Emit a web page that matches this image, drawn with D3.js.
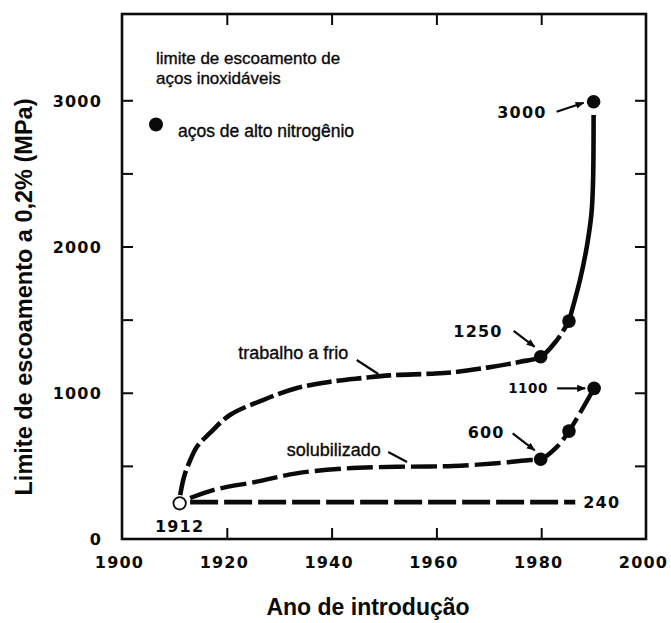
<!DOCTYPE html>
<html><head><meta charset="utf-8">
<script src="https://cdn.jsdelivr.net/npm/d3@7"></script>
<style>
html,body{margin:0;padding:0;background:#fff;}
svg{display:block;}
</style>
</head><body>
<svg id="chart" width="671" height="623"></svg>
<script>
// ---------------- DATA ----------------
const xTickYears = [1900, 1920, 1940, 1960, 1980, 2000];
const yTickValues = [0, 1000, 2000, 3000];
const yMinorTicks = [500, 1000, 1500, 2000, 2500, 3000];
const xInnerTicks = [1920, 1940, 1960, 1980];

// "trabalho a frio" curve (traced), dashed part then solid steep part
const coldWorkLower = [[1911.1,300],[1911.8,420],[1912.8,520],[1914.3,631],[1916.8,725],[1920.6,848],[1926.9,950],[1933.4,1032],[1939.7,1075],[1946.0,1101],[1951.1,1119],[1958.8,1130],[1963.2,1140],[1969.7,1172],[1976.0,1212],[1979.9,1246],[1983.0,1360],[1985.3,1490]];
const coldWorkUpper = [[1985.3,1490],[1987.4,1771],[1988.7,1998],[1989.6,2229],[1989.9,2454],[1990.0,2900]];
// "solubilizado" curve (traced)
const solutionCurve = [[1913.0,280],[1917.4,335],[1925.7,392],[1933.3,449],[1942.9,483],[1952.4,494],[1958.8,496],[1963.2,499],[1971.5,518],[1977.9,540],[1979.9,545],[1983.0,630],[1985.3,738],[1990.1,1030]];
// 1912 baseline (240 MPa)
const baseLine = [[1913.0,252],[1986.5,252]];

// high-nitrogen steel points
const coldWorkPoints = [[1979.9,1246],[1985.3,1490],[1990.0,2990]];
const solutionPoints = [[1979.9,545],[1985.3,738],[1990.1,1030]];
const origin1912 = [1911.0, 244];

// value labels
const valueLabels = ["3000","1250","1100","600","240","1912"];
const curveNames = ["trabalho a frio","solubilizado"];
const legendTitle = ["limite de escoamento de","aços inoxidáveis"];
const legendItem = "aços de alto nitrogênio";
const xTitle = "Ano de introdução";
const yTitle = "Limite de escoamento a 0,2% (MPa)";

// ---------------- LAYOUT ----------------
const svg = d3.select("#chart");
const L = 122, R = 646, T = 14, B = 539;
const x = d3.scaleLinear().domain([1900, 2000]).range([L, R]);
const y = d3.scaleLinear().domain([0, 3590]).range([B, T]);

const NUMFONT = "'DejaVu Sans', sans-serif";
const TXTFONT = "'Liberation Sans', Arial, sans-serif";
const ink = "#0a0a0a";

// frame
svg.append("rect").attr("x", L).attr("y", T).attr("width", R-L).attr("height", B-T)
  .attr("fill","none").attr("stroke", ink).attr("stroke-width", 2.6);

// inner ticks via axes
const tl = 11;
svg.append("g").attr("transform",`translate(${L},0)`)
  .call(d3.axisRight(y).tickValues(yMinorTicks).tickSize(tl).tickFormat(""))
  .call(g=>g.select(".domain").remove())
  .call(g=>g.selectAll("line").attr("stroke",ink).attr("stroke-width",2));
svg.append("g").attr("transform",`translate(${R},0)`)
  .call(d3.axisLeft(y).tickValues(yMinorTicks).tickSize(tl).tickFormat(""))
  .call(g=>g.select(".domain").remove())
  .call(g=>g.selectAll("line").attr("stroke",ink).attr("stroke-width",2));
svg.append("g").attr("transform",`translate(0,${B})`)
  .call(d3.axisTop(x).tickValues(xInnerTicks).tickSize(tl).tickFormat(""))
  .call(g=>g.select(".domain").remove())
  .call(g=>g.selectAll("line").attr("stroke",ink).attr("stroke-width",2));
svg.append("g").attr("transform",`translate(0,${T})`)
  .call(d3.axisBottom(x).tickValues(xInnerTicks).tickSize(tl).tickFormat(""))
  .call(g=>g.select(".domain").remove())
  .call(g=>g.selectAll("line").attr("stroke",ink).attr("stroke-width",2));

// tick labels
const xLab = svg.append("g").attr("transform",`translate(0,${B})`)
  .call(d3.axisBottom(x).tickValues(xTickYears).tickSize(0).tickPadding(0).tickFormat(d3.format("d")));
xLab.select(".domain").remove();
xLab.selectAll("text").attr("dy",null).attr("y",29).attr("dx",-3)
  .attr("font-family",NUMFONT).attr("font-weight","bold").attr("font-size",16)
  .attr("letter-spacing",1.2).attr("fill",ink);

const yLab = svg.append("g").attr("transform",`translate(${L},0)`)
  .call(d3.axisLeft(y).tickValues(yTickValues).tickSize(0).tickPadding(0).tickFormat(d3.format("d")));
yLab.select(".domain").remove();
yLab.selectAll("text").attr("x",-20).attr("dy","0.36em")
  .attr("font-family",NUMFONT).attr("font-weight","bold").attr("font-size",16)
  .attr("letter-spacing",1.2).attr("fill",ink);

// axis titles
svg.append("text").attr("x",368).attr("y",615).attr("text-anchor","middle")
  .attr("font-family",TXTFONT).attr("font-weight","bold").attr("font-size",23)
  .attr("fill",ink).text(xTitle);
svg.append("text").attr("transform","translate(32,297) rotate(-90)").attr("text-anchor","middle")
  .attr("font-family",TXTFONT).attr("font-weight","bold").attr("font-size",23.5)
  .attr("fill",ink).text(yTitle);

// curves
const line = d3.line().x(d=>x(d[0])).y(d=>y(d[1])).curve(d3.curveCatmullRom.alpha(0.5));
const lineLin = d3.line().x(d=>x(d[0])).y(d=>y(d[1]));

svg.append("path").attr("d", line(coldWorkLower)).attr("fill","none")
  .attr("stroke",ink).attr("stroke-width",4.6).attr("stroke-dasharray","25,5");
svg.append("path").attr("d", line(coldWorkUpper)).attr("fill","none")
  .attr("stroke",ink).attr("stroke-width",4.6);
svg.append("path").attr("d", line(solutionCurve)).attr("fill","none")
  .attr("stroke",ink).attr("stroke-width",4.4).attr("stroke-dasharray","26,6");
svg.append("path").attr("d", lineLin(baseLine)).attr("fill","none")
  .attr("stroke",ink).attr("stroke-width",4.6).attr("stroke-dasharray","28,6");

// points
svg.append("g").selectAll("circle").data(coldWorkPoints.concat(solutionPoints)).join("circle")
  .attr("cx",d=>x(d[0])).attr("cy",d=>y(d[1])).attr("r",6.8).attr("fill",ink);
svg.append("circle").attr("cx",x(origin1912[0])).attr("cy",y(origin1912[1])).attr("r",6.2)
  .attr("fill","#fff").attr("stroke",ink).attr("stroke-width",1.8);

// arrow marker
svg.append("defs").append("marker").attr("id","ah").attr("viewBox","0 0 10 10")
  .attr("refX",9).attr("refY",5).attr("markerWidth",4).attr("markerHeight",4)
  .attr("orient","auto").attr("markerUnits","strokeWidth")
  .append("path").attr("d","M0,1 L10,5 L0,9 Z").attr("fill",ink);

// value labels with arrows (offsets from target point)
const ann = [
  {p: coldWorkPoints[2], t: valueLabels[0], tail:[-37,10], tip:[-10,1], tx:[-47,10], fs:16, ls:1.2},
  {p: coldWorkPoints[0], t: valueLabels[1], tail:[-27,-26], tip:[-6,-10], tx:[-38,-26], fs:16, ls:1.2},
  {p: solutionPoints[2], t: valueLabels[2], tail:[-37,0], tip:[-9,0], tx:[-46,0], fs:13.5, ls:0.6},
  {p: solutionPoints[0], t: valueLabels[3], tail:[-28,-26], tip:[-6,-9], tx:[-36,-27], fs:16, ls:1.2}
];
ann.forEach(a=>{
  const px = x(a.p[0]), py = y(a.p[1]);
  svg.append("line").attr("x1",px+a.tail[0]).attr("y1",py+a.tail[1])
    .attr("x2",px+a.tip[0]).attr("y2",py+a.tip[1])
    .attr("stroke",ink).attr("stroke-width",2.2).attr("marker-end","url(#ah)");
  svg.append("text").attr("x",px+a.tx[0]).attr("y",py+a.tx[1]).attr("dy","0.36em")
    .attr("text-anchor","end").attr("font-family",NUMFONT).attr("font-weight","bold")
    .attr("font-size",a.fs).attr("letter-spacing",a.ls).attr("fill",ink).text(a.t);
});
// 240 label at end of baseline
svg.append("text").attr("x",x(baseLine[1][0])+8).attr("y",y(baseLine[1][1])).attr("dy","0.36em")
  .attr("font-family",NUMFONT).attr("font-weight","bold").attr("font-size",16)
  .attr("letter-spacing",1.2).attr("fill",ink).text(valueLabels[4]);
// 1912 label
svg.append("text").attr("x",x(origin1912[0])).attr("y",y(origin1912[1])+23).attr("dy","0.36em")
  .attr("text-anchor","middle").attr("font-family",NUMFONT).attr("font-weight","bold")
  .attr("font-size",16).attr("letter-spacing",1.2).attr("fill",ink).text(valueLabels[5]);

// curve names with leader lines
const names = [
  {t: curveNames[0], at:[1932.7,1274], l1:[1944.8,1224], l2:[1948.9,1128]},
  {t: curveNames[1], at:[1940.4,615], l1:[1950.8,595], l2:[1954.4,526]}
];
names.forEach(n=>{
  svg.append("text").attr("x",x(n.at[0])).attr("y",y(n.at[1])).attr("dy","0.36em")
    .attr("text-anchor","middle").attr("font-family",TXTFONT).attr("font-size",18)
    .attr("fill",ink).attr("stroke",ink).attr("stroke-width",0.35).text(n.t);
  svg.append("line").attr("x1",x(n.l1[0])).attr("y1",y(n.l1[1]))
    .attr("x2",x(n.l2[0])).attr("y2",y(n.l2[1])).attr("stroke",ink).attr("stroke-width",2.2);
});

// legend
svg.append("text").attr("x",156).attr("y",64).attr("font-family",TXTFONT).attr("font-size",17)
  .attr("fill",ink).attr("stroke",ink).attr("stroke-width",0.35).text(legendTitle[0]);
svg.append("text").attr("x",156).attr("y",84).attr("font-family",TXTFONT).attr("font-size",17)
  .attr("fill",ink).attr("stroke",ink).attr("stroke-width",0.35).text(legendTitle[1]);
svg.append("circle").attr("cx",156).attr("cy",124.5).attr("r",7).attr("fill",ink);
svg.append("text").attr("x",178).attr("y",137).attr("font-family",TXTFONT).attr("font-size",17.5)
  .attr("fill",ink).attr("stroke",ink).attr("stroke-width",0.35).text(legendItem);
</script>
</body></html>
